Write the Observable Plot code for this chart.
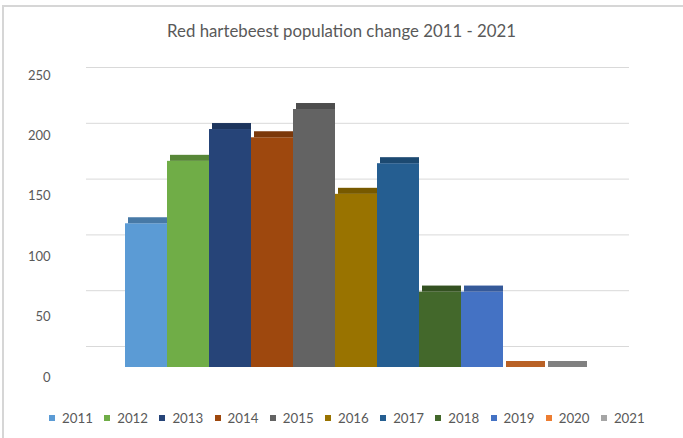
<!DOCTYPE html>
<html>
<head>
<meta charset="utf-8">
<script src="https://cdn.jsdelivr.net/npm/d3@7"></script>
<script src="https://cdn.jsdelivr.net/npm/@observablehq/plot@0.6"></script>
<style>
  html, body { margin: 0; padding: 0; background: #fff; }
  #chart { position: relative; width: 683px; height: 438px; background: #fff; overflow: hidden; font-family: Lato, "Open Sans", sans-serif; }
  #frame { position: absolute; left: 2px; top: 5px; width: 720px; height: 480px; border-left: 2px solid #d6d6d6; border-top: 2px solid #d6d6d6; }
  #title { position: absolute; left: 0; top: 20px; width: 683px; text-align: center; font-size: 16.8px; line-height: 21px; color: #595959; }
  .layer { position: absolute; left: 0; top: 0; }
  #legend { position: absolute; left: 49px; top: 410px; display: flex; font-size: 13.3px; line-height: 16px; color: #595959; }
  .item { display: flex; align-items: center; width: 55.2px; white-space: nowrap; }
  .sw { width: 6px; height: 6px; margin-right: 7px; flex: none; }
</style>
</head>
<body>
<div id="chart">
  <div id="frame"></div>
  <div id="title"></div>
  <div id="legend"></div>
</div>
<script>
const titleText = "Red hartebeest population change 2011 - 2021";
const years = ["2011", "2012", "2013", "2014", "2015", "2016", "2017", "2018", "2019", "2020", "2021"];
const population = [122, 175, 202, 195, 219, 147, 173, 64, 64, 0, 0];
const colors = ["#5B9BD5", "#70AD47", "#264478", "#9E480E", "#636363", "#997300", "#255E91", "#43682B", "#4472C4", "#ED7D31", "#A5A5A5"];
const yTicks = [0, 50, 100, 150, 200, 250];

const data = years.map((year, i) => ({year, population: population[i]}));
const chart = document.getElementById("chart");
document.getElementById("title").textContent = titleText;

const W = 683, H = 395;
const bg = {background: "transparent", fontFamily: "Lato, 'Open Sans', sans-serif", overflow: "visible"};

// Back wall gridlines
const back = Plot.plot({
  width: W, height: H,
  marginLeft: 86, marginRight: 54,
  y: {domain: [0, 250], range: [346, 67], axis: null},
  style: bg,
  marks: [Plot.ruleY(yTicks, {stroke: "#d9d9d9", strokeWidth: 1})]
});

// Front-edge tick labels
const labels = Plot.plot({
  width: W, height: H,
  marginLeft: 0, marginRight: W - 50,
  y: {domain: [0, 250], range: [377, 75], axis: null},
  style: bg,
  marks: [Plot.text(yTicks, {y: d => d, text: d => String(d), frameAnchor: "right", textAnchor: "end", fill: "#595959", fontSize: 13})]
});

// Bars with a top face
const bars = Plot.plot({
  width: W, height: H,
  x: {type: "band", domain: years, range: [123, 588], padding: 0, axis: null},
  y: {domain: [0, 250], range: [367, 72.5], axis: null},
  color: {domain: years, range: colors},
  style: bg,
  marks: [
    Plot.barY(data, {x: "year", y: "population", fill: "year"}),
    Plot.barY(data, {x: "year", y1: "population", y2: "population", fill: "year", insetTop: -6, insetRight: 3, dx: 3}),
    Plot.barY(data, {x: "year", y1: "population", y2: "population", fill: "black", fillOpacity: 0.22, insetTop: -6, insetRight: 3, dx: 3})
  ]
});

for (const svg of [back, labels, bars]) {
  svg.classList.add("layer");
  chart.appendChild(svg);
}

// Legend
const legend = d3.select("#legend");
const items = legend.selectAll(".item").data(years).join("div").attr("class", "item");
items.append("span").attr("class", "sw").style("background", (d, i) => colors[i]);
items.append("span").text(d => d);
chart.appendChild(document.getElementById("legend"));
</script>
</body>
</html>
